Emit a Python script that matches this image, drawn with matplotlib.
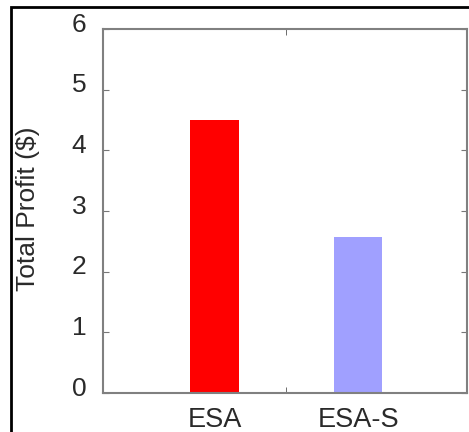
import matplotlib
matplotlib.use("Agg")
import matplotlib.pyplot as plt
from matplotlib.patches import Rectangle
import matplotlib.transforms as mtransforms

categories = ["ESA", "ESA-S"]
values = [4.5, 2.57]
colors = ["#ff0000", "#a0a0ff"]
yticks = [0, 1, 2, 3, 4, 5, 6]

plt.rcParams['font.family'] = ['Liberation Sans', 'DejaVu Sans']

W, H = 469, 432
fig = plt.figure(figsize=(W/100, H/100), dpi=100)
ax = fig.add_axes([103/W, 1 - 393/H, (467-103)/W, (393-29)/H])

x = [1, 2]
ax.bar(x, values, width=0.34, color=colors, zorder=2)
ax.set_xlim(0.22, 2.76)
ax.set_ylim(0, 6)
ax.set_yticks(yticks)
ax.set_xticks(x)
ax.set_xticklabels(categories)
ax.set_xticks([1.5], minor=True)
ax.tick_params(axis='x', which='major', length=0, pad=10, labelsize=19.5, labelcolor='#2a2a2a')
ax.tick_params(axis='x', which='minor', length=4, direction='in', top=True, color='#555555')
ax.tick_params(axis='y', which='major', length=4, direction='in', right=True, pad=12,
               labelsize=19, labelcolor='#2a2a2a', color='#777777')
for lab in ax.get_yticklabels():
    lab.set_transform(lab.get_transform() + mtransforms.ScaledTranslation(0, 7/100, fig.dpi_scale_trans))
for s in ax.spines.values():
    s.set_color('#808080')
    s.set_linewidth(1.5)
ax.set_ylabel("Total Profit ($)", fontsize=19, color='#2a2a2a')
ax.yaxis.set_label_coords((40-103)/(467-103), (393-209)/(393-29))

fig.patches.append(Rectangle((11/W, -0.05), 1.1, 1 - 7/H + 0.05, transform=fig.transFigure,
                             fill=False, edgecolor='black', linewidth=2))

fig.savefig("out.png", dpi=100)
